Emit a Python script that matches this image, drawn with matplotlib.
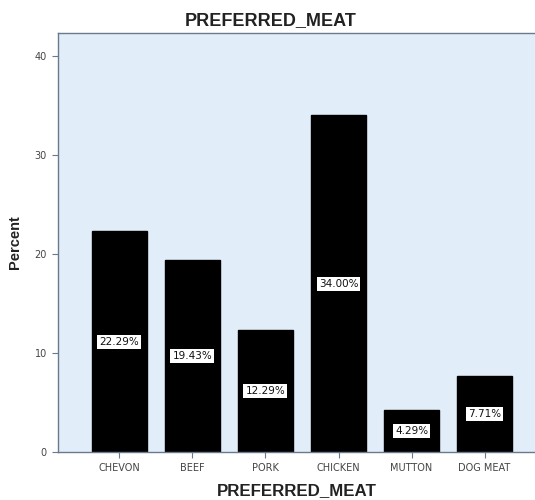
import matplotlib.pyplot as plt

# Preferred meat survey, percent of respondents
meats = ["CHEVON", "BEEF", "PORK", "CHICKEN", "MUTTON", "DOG MEAT"]
percent = [22.29, 19.43, 12.29, 34.00, 4.29, 7.71]
yticks = [0, 10, 20, 30, 40]

fig = plt.figure(figsize=(5.35, 5.0), dpi=100)
ax = fig.add_axes([58 / 535, 48 / 500, 1 - 58 / 535, 419 / 500])
ax.set_facecolor("#E2EDFA")

x = range(len(meats))
bars = ax.bar(x, percent, width=0.75, color="black", edgecolor="black", zorder=2)

# value labels in white boxes, halfway up each bar
for i, v in enumerate(percent):
    ax.text(i, v / 2, f"{v:.2f}%", ha="center", va="center", fontsize=7.5,
            color="#111111", family="DejaVu Sans",
            bbox=dict(boxstyle="square,pad=0.2", fc="white", ec="none"), zorder=3)

ax.set_xlim(-0.84, 5.69)
ax.set_ylim(0, 42.3)
ax.set_xticks(list(x))
ax.set_xticklabels(meats, fontsize=7, color="#444444", family="DejaVu Sans")
ax.set_yticks(yticks)
ax.set_yticklabels([str(t) for t in yticks], fontsize=7, color="#444444", family="DejaVu Sans")
ax.tick_params(axis="both", length=4, color="#6A7A8C", width=0.8, pad=4)

for side in ["left", "bottom", "top"]:
    ax.spines[side].set_color("#6A7A8C")
    ax.spines[side].set_linewidth(1.0)
ax.spines["right"].set_visible(False)

ax.set_xlabel("PREFERRED_MEAT", fontsize=12.2, fontweight="bold", color="#222222",
              family="Liberation Sans", labelpad=7)
ax.set_ylabel("Percent", fontsize=10.5, fontweight="bold", color="#222222",
              family="Liberation Sans", labelpad=9)
fig.text(271 / 535, 1 - 21 / 500, "PREFERRED_MEAT", ha="center", va="center",
         fontsize=13, fontweight="bold", color="#222222", family="Liberation Sans")

fig.savefig("out.png", dpi=100)
